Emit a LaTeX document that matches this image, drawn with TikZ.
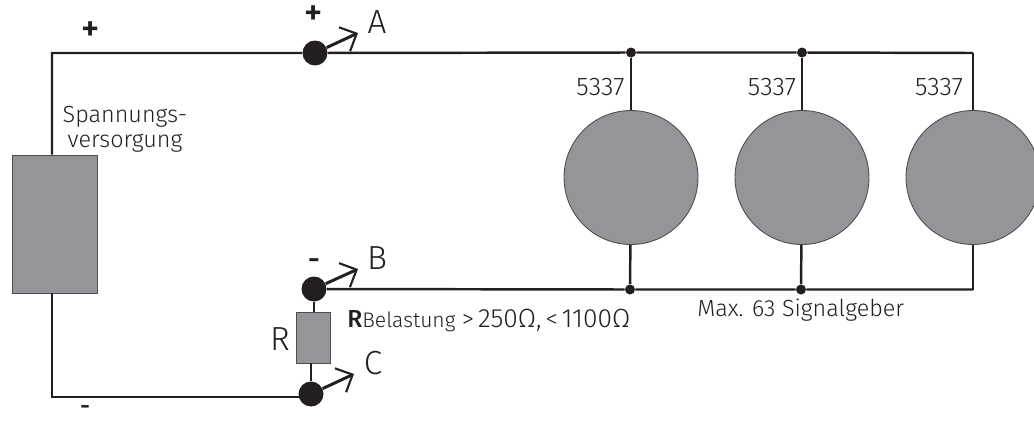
\documentclass[tikz,border=0pt]{standalone}
\usepackage{fontspec}
\setmainfont{Fira Sans}[UprightFont=* Light, BoldFont=* Medium]
\usetikzlibrary{arrows.meta, calc}
\definecolor{basegray}{RGB}{147,149,152}
\definecolor{baseblack}{RGB}{35,31,32}

\begin{document}
\begin{tikzpicture}[x=0.02cm, y=-0.02cm, font=\fontsize{13.3}{14.5}\selectfont]
  \tikzset{
    gray_box/.style args={#1/#2}{
      rectangle, draw=baseblack!80, fill=basegray, line width=0.5pt, minimum width=#1*0.02cm, minimum height=#2*0.02cm, inner sep=0pt
    },
    gray_circle/.style={
      circle, draw=baseblack!80, fill=basegray, line width=0.5pt, minimum size=2.68cm, inner sep=0pt
    },
    big_dot/.style={circle, fill=baseblack, minimum size=0.5cm, inner sep=0pt},
    small_dot/.style={circle, fill=baseblack, minimum size=0.2cm, inner sep=0pt},
    wire/.style={draw=baseblack, line width=1.4pt},
    probe_arrow/.style={-{Straight Barb[length=7.6pt, width=15pt, line width=1.2pt]}, draw=baseblack, line width=1.7pt},
    big_label/.style={text=baseblack, font=\fontsize{19}{19}\selectfont, inner sep=0pt},
    plus_label/.style={text=baseblack, font=\fontsize{20}{20}\bfseries\selectfont, inner sep=0pt},
    minus_label/.style={text=baseblack, font=\fontsize{17}{17}\bfseries\selectfont, inner sep=0pt}
  }
  \useasboundingbox (0,0) rectangle (1034,423);

  % Supply and load resistor
  \node[gray_box=85/138] (supply) at (54.5,224) {};
  \node[gray_box=34/51] (load) at (313,337.5) {};

  % Terminals with their probes
  \node[big_dot] (term-A) at (315,53) {};
  \node[big_dot] (term-B) at (314,289) {};
  \node[big_dot] (term-C) at (311,394) {};
  \coordinate (tip-A) at (358,33);
  \coordinate (tip-B) at (358,269);
  \coordinate (tip-C) at (354,374);
  \coordinate (corner-top) at (52,53);
  \coordinate (corner-bottom) at (52,397);
  \coordinate (corner-right) at (973,53);
  \coordinate (corner-low) at (973,289.5);

  % Signal devices along the two rails
  \foreach \x/\name/\lx [count=\xi] in {631/one/600.5, 802/two/772, 973/three/939} {
    \node[gray_circle] (lamp-\name) at (\x,177.5) {};
    \node[text=baseblack, inner sep=0pt, font=\fontsize{14.5}{14.5}\selectfont] (type-\name) at (\lx,87) {5337};
    \ifnum\xi<3
      \node[small_dot] (top-\name) at (\x,52.5) {};
      \node[small_dot] (low-\name) at (\x-1,289.5) {};
      \draw[wire] (top-\name) -- (lamp-\name);
      \draw[wire] (lamp-\name) -- (low-\name);
    \fi
  }
  \draw[wire] (corner-right) -- (lamp-three);
  \draw[wire] (lamp-three) -- (corner-low);

  % Rails
  \draw[wire] (supply.north -| corner-top) -- (corner-top) -- (term-A) -- (top-one) -- (top-two) -- (corner-right);
  \draw[wire] (term-B) -- (low-one) -- (low-two) -- (corner-low);
  \draw[wire] (supply.south -| corner-bottom) -- (corner-bottom) -- (corner-bottom -| term-C);
  \draw[wire] (term-B) -- (load.north -| term-B);
  \draw[wire] (load.south -| term-C) -- (term-C);

  \foreach \x in {A,B,C} {
    \draw[probe_arrow] (term-\x) -- (tip-\x);
    \node[big_label] (name-\x) at ($(tip-\x)+(19,-11)$) {\x};
  }

  % Labels
  \node[plus_label] (plus-left) at (91,31) {+};
  \node[plus_label] (plus-mid) at (314,15) {+};
  \node[minus_label] (minus-mid) at (314,264) {-};
  \node[minus_label, font=\fontsize{14}{14}\bfseries\selectfont] (minus-left) at (85,410) {-};
  \node[big_label] (name-R) at (280,339) {R};
  \node[text=baseblack, align=center, inner sep=0pt] (supply-text) at (125,129) {Spannungs-\\versorgung};
  \node[text=baseblack, inner sep=0pt, anchor=base west] (load-text) at (347,327) {{\fontsize{14}{14}\selectfont\textbf{R}}{\fontsize{12}{12}\selectfont Belastung} {\fontsize{14}{14}\selectfont >}\,{\fontsize{15}{15}\selectfont 250Ω,}\,{\fontsize{14}{14}\selectfont <}\,{\fontsize{15}{15}\selectfont 1100Ω}};
  \node[text=baseblack, inner sep=0pt, anchor=west] (count-text) at (697,310) {Max. 63 Signalgeber};
\end{tikzpicture}
\end{document}
